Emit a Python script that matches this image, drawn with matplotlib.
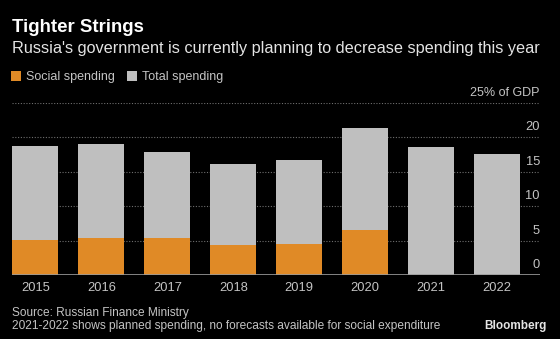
import matplotlib.pyplot as plt

# Russian budget spending, % of GDP
YEARS = ["2015", "2016", "2017", "2018", "2019", "2020", "2021", "2022"]
TOTAL = [18.8, 19.1, 17.9, 16.2, 16.7, 21.4, 18.6, 17.6]
SOCIAL = [5.1, 5.4, 5.4, 4.4, 4.5, 6.5, None, None]
YTICKS = [0, 5, 10, 15, 20]

ORANGE = "#e08a26"
GRAY = "#bfbfbf"
TXT = "#c4c4c4"
BG = "#000000"

plt.rcParams["font.family"] = ["Liberation Sans", "DejaVu Sans"]

fig = plt.figure(figsize=(5.6, 3.39), dpi=100, facecolor=BG)
ax = fig.add_axes([12 / 560, 64 / 339, 528 / 560, 172 / 339], facecolor=BG)

x = list(range(len(YEARS)))
ax.bar(x, TOTAL, width=0.7, color=GRAY, zorder=2, label="Total spending")
sx = [i for i, v in zip(x, SOCIAL) if v is not None]
sv = [v for v in SOCIAL if v is not None]
ax.bar(sx, sv, width=0.7, color=ORANGE, zorder=3, label="Social spending")

ax.set_xlim(-0.353, 7.647)
ax.set_ylim(0, 25)

# dotted gridlines, the top one carries the unit label
for v in YTICKS[1:] + [25]:
    ax.axhline(v, color="#6e6e6e", linestyle=(0, (1, 1.5)), linewidth=0.8, zorder=1)
ax.axhline(0, color="#9a9a9a", linewidth=1.2, zorder=4)

ytr = ax.get_yaxis_transform()
for v in YTICKS:
    ax.annotate(str(v), xy=(1, v), xycoords=ytr, xytext=(0, 7),
                textcoords="offset pixels", ha="right", va="baseline",
                color=TXT, fontsize=9.3)
ax.annotate("25% of GDP", xy=(1, 25), xycoords=ytr, xytext=(0, 7),
            textcoords="offset pixels", ha="right", va="baseline",
            color=TXT, fontsize=9)

ax.set_xticks(x)
ax.set_xticklabels(YEARS, color=TXT, fontsize=9.3)
ax.tick_params(axis="x", length=0, pad=5)
ax.set_yticks([])
for s in ax.spines.values():
    s.set_visible(False)

fig.text(12 / 560, 1 - 28 / 339, "Tighter Strings", color="white",
         fontsize=13.4, fontweight="bold", va="center", ha="left")
fig.text(12 / 560, 1 - 48 / 339,
         "Russia's government is currently planning to decrease spending this year",
         color="#e4e4e4", fontsize=11.7, va="center", ha="left")

handles, labels = ax.get_legend_handles_labels()
leg = fig.legend(handles[::-1], labels[::-1], loc="center left",
                 bbox_to_anchor=(8 / 560, 1 - 77 / 339), ncol=2, frameon=False,
                 handlelength=0.8, handleheight=0.8, handletextpad=0.4,
                 columnspacing=1.0, fontsize=9, borderaxespad=0, borderpad=0.2)
for t in leg.get_texts():
    t.set_color(TXT)

fig.text(12 / 560, 1 - 313 / 339, "Source: Russian Finance Ministry",
         color=TXT, fontsize=8.6, va="center", ha="left")
fig.text(12 / 560, 1 - 326 / 339,
         "2021-2022 shows planned spending, no forecasts available for social expenditure",
         color=TXT, fontsize=8.6, va="center", ha="left")
fig.text(547 / 560, 1 - 326 / 339, "Bloomberg", color="#e4e4e4",
         fontsize=8.5, fontweight="bold", va="center", ha="right")

fig.savefig("out.png", dpi=100, facecolor=BG)
